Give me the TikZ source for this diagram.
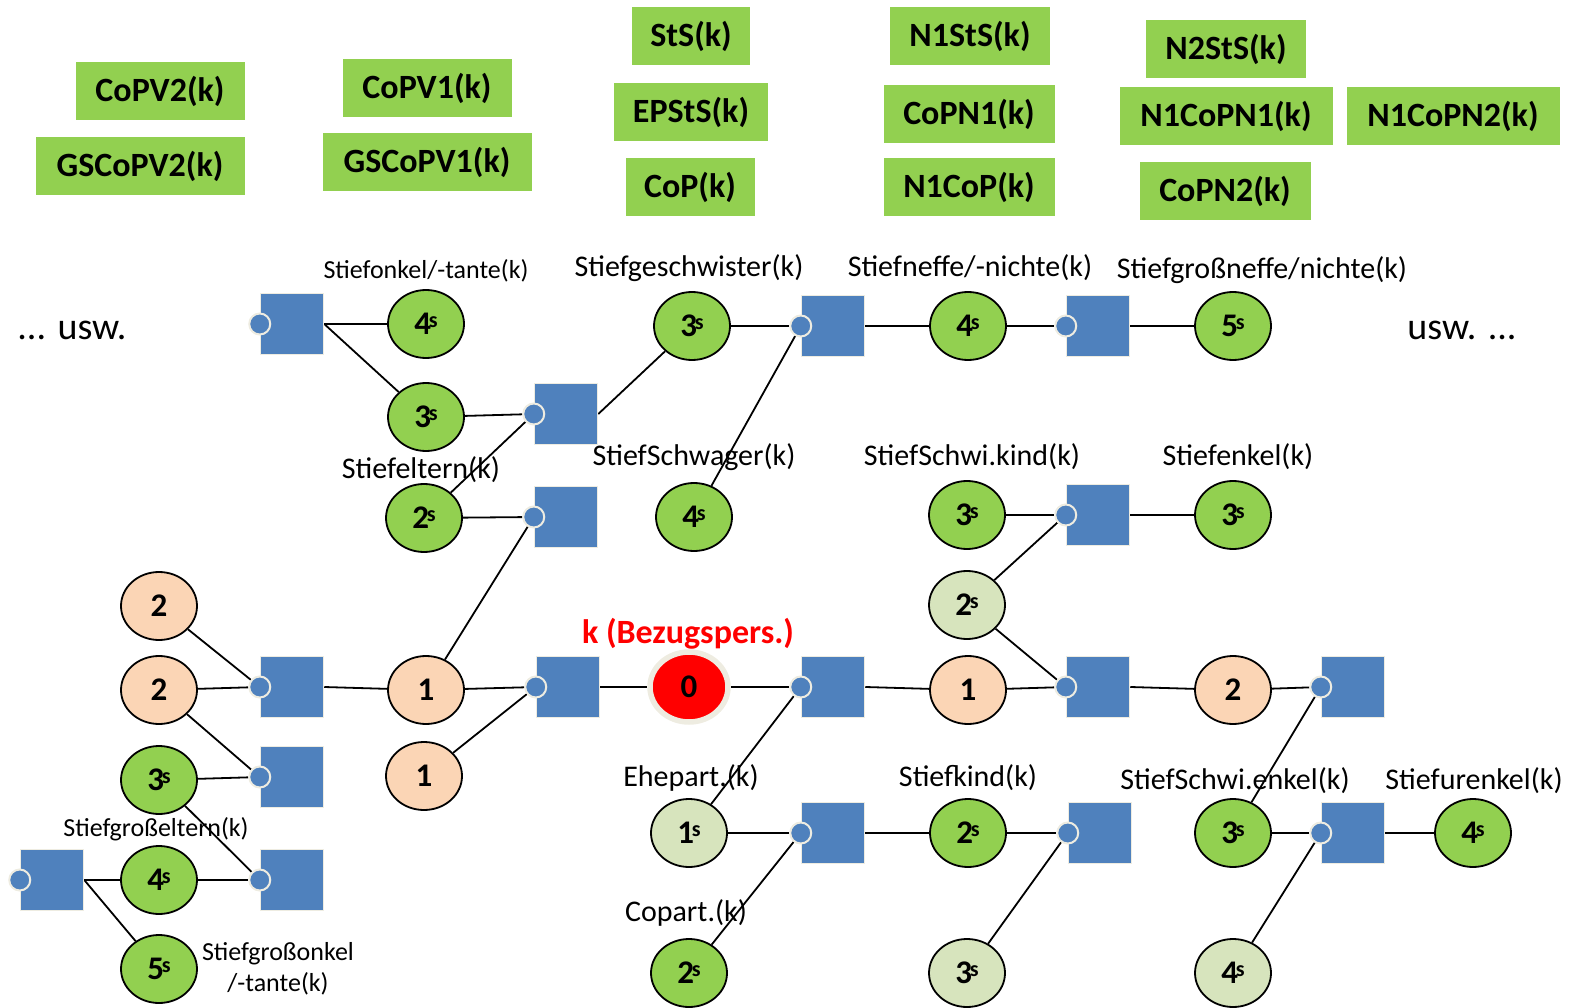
\documentclass[tikz,border=0pt]{standalone}
\usepackage{fontspec}
\setmainfont{Carlito}
\usetikzlibrary{shapes.geometric,backgrounds}

\definecolor{leaf}{HTML}{92D050}
\definecolor{paleleaf}{HTML}{D7E4BD}
\definecolor{peach}{HTML}{FBD5B5}
\definecolor{famblue}{HTML}{4F81BD}
\definecolor{cream}{HTML}{EEECE1}
\definecolor{egored}{HTML}{FF0000}

\newcommand\tagfont{\fontsize{34}{38}\selectfont\bfseries}
\newcommand\rolefont{\fontsize{30}{34}\selectfont}
\newcommand\smallrolefont{\fontsize{26}{31}\selectfont}
\newcommand\genfont{\fontsize{33}{35}\selectfont\bfseries}
\newcommand\gen[2]{#1\kern-2pt\raisebox{7pt}{\fontsize{22}{22}\selectfont #2}}

\tikzset{
  person/.style={ellipse, draw=black, line width=1.8pt, minimum width=76pt,
    minimum height=68pt, inner sep=0pt, font=\genfont},
  steprel/.style={person, fill=leaf},
  paleprel/.style={person, fill=paleleaf},
  bloodrel/.style={person, fill=peach},
  egonode/.style={person, fill=egored, draw=cream, line width=5.5pt,
    minimum width=78pt, minimum height=70pt},
  famsq/.style={rectangle, fill=famblue, draw=cream, line width=1.5pt,
    minimum width=63pt, minimum height=61pt, inner sep=0pt},
  port/.style={circle, fill=famblue, draw=cream, line width=2pt,
    minimum size=21pt, inner sep=0pt},
  role/.style={font=\rolefont, inner sep=0pt},
  smallrole/.style={font=\smallrolefont, inner sep=0pt, align=center},
  tagbox/.style={fill=leaf, minimum height=58pt, font=\tagfont, inner sep=0pt},
  link/.style={draw=black, line width=1.8pt}
}

\begin{document}
\begin{tikzpicture}[x=1pt,y=-1pt]
\useasboundingbox (0,0) rectangle (1569,1008);

% ---- abbreviation tags ----
\node[tagbox, minimum width=169pt] (t1)  at (160,91)  {CoPV2(k)};
\node[tagbox, minimum width=209pt] (t2)  at (140,166) {GSCoPV2(k)};
\node[tagbox, minimum width=169pt] (t3)  at (427,88)  {CoPV1(k)};
\node[tagbox, minimum width=209pt] (t4)  at (427,162) {GSCoPV1(k)};
\node[tagbox, minimum width=118pt] (t5)  at (691,36)  {StS(k)};
\node[tagbox, minimum width=154pt] (t6)  at (691,112) {EPStS(k)};
\node[tagbox, minimum width=129pt] (t7)  at (690,187) {CoP(k)};
\node[tagbox, minimum width=160pt] (t8)  at (970,36)  {N1StS(k)};
\node[tagbox, minimum width=171pt] (t9)  at (969,114) {CoPN1(k)};
\node[tagbox, minimum width=171pt] (t10) at (969,187) {N1CoP(k)};
\node[tagbox, minimum width=160pt] (t11) at (1226,49) {N2StS(k)};
\node[tagbox, minimum width=213pt] (t12) at (1226,116) {N1CoPN1(k)};
\node[tagbox, minimum width=213pt] (t13) at (1453,116) {N1CoPN2(k)};
\node[tagbox, minimum width=171pt] (t14) at (1225,191) {CoPN2(k)};

% ---- family squares with their connection ports ----
\foreach \n/\x/\y in {A/292/324, B/566/414, C/566/517, D/292/687, E/292/777,
    F/292/880, G/52/880, H/568/687, I/833/687, J/833/326, K/1098/326,
    L/1098/515, M/1098/687, N/1353/687, O/833/833, P/1100/833, Q/1353/833}{
  \node[famsq] (s\n) at (\x,\y) {};
  \node[port] (p\n) at (s\n.west) {};
}

% ---- persons ----
\node[steprel] (a4) at (426,324) {\gen{4}{s}};
\node[steprel] (a3) at (426,417) {\gen{3}{s}};
\node[steprel] (a2) at (424,518) {\gen{2}{s}};
\node[steprel] (g3) at (692,326) {\gen{3}{s}};
\node[steprel] (g4) at (694,517) {\gen{4}{s}};
\node[steprel] (n4) at (968,326) {\gen{4}{s}};
\node[steprel] (n5) at (1233,326) {\gen{5}{s}};
\node[steprel] (k3) at (967,515) {\gen{3}{s}};
\node[steprel] (e3) at (1233,515) {\gen{3}{s}};
\node[steprel] (l3) at (159,780) {\gen{3}{s}};
\node[steprel] (l4) at (159,880) {\gen{4}{s}};
\node[steprel] (l5) at (159,969) {\gen{5}{s}};
\node[steprel] (sk) at (968,833) {\gen{2}{s}};
\node[steprel] (cp) at (689,973) {\gen{2}{s}};
\node[steprel] (en3) at (1233,833) {\gen{3}{s}};
\node[steprel] (ur4) at (1473,833) {\gen{4}{s}};

\node[paleprel] (c2s) at (967,605) {\gen{2}{s}};
\node[paleprel] (ep) at (689,833) {\gen{1}{s}};
\node[paleprel] (sk3) at (967,973) {\gen{3}{s}};
\node[paleprel] (en4) at (1233,973) {\gen{4}{s}};

\node[bloodrel] (l2a) at (159,606) {2};
\node[bloodrel] (l2b) at (159,690) {2};
\node[bloodrel] (p1a) at (426,690) {1};
\node[bloodrel] (p1b) at (424,776) {1};
\node[bloodrel] (c1) at (968,690) {1};
\node[bloodrel] (c2) at (1233,690) {2};

\node[egonode] (ego) at (689,687) {0};

% ---- connectors ----
\begin{scope}[on background layer]
  \draw[link] (sA.east) -- (a4);
  \draw[link] (sA.east) -- (a3);
  \draw[link] (a3) -- (pB);
  \draw[link] (a2) -- (pB);
  \draw[link] (a2) -- (pC);
  \draw[link] (sB.east) -- (g3);
  \draw[link] (g3) -- (pJ);
  \draw[link] (g4) -- (pJ);
  \draw[link] (sJ.east) -- (n4);
  \draw[link] (n4) -- (pK);
  \draw[link] (sK.east) -- (n5);
  \draw[link] (l2a) -- (pD);
  \draw[link] (l2b) -- (pD);
  \draw[link] (l2b) -- (pE);
  \draw[link] (l3) -- (pE);
  \draw[link] (l3) -- (pF);
  \draw[link] (sG.east) -- (l4);
  \draw[link] (l4) -- (pF);
  \draw[link] (sG.east) -- (l5);
  \draw[link] (sD.east) -- (p1a);
  \draw[link] (p1a) -- (pC);
  \draw[link] (p1a) -- (pH);
  \draw[link] (p1b) -- (pH);
  \draw[link] (sH.east) -- (ego);
  \draw[link] (ego) -- (pI);
  \draw[link] (pI) -- (ep);
  \draw[link] (ep) -- (pO);
  \draw[link] (pO) -- (cp);
  \draw[link] (sO.east) -- (sk);
  \draw[link] (sk) -- (pP);
  \draw[link] (pP) -- (sk3);
  \draw[link] (sI.east) -- (c1);
  \draw[link] (c1) -- (pM);
  \draw[link] (c2s) -- (pL);
  \draw[link] (c2s) -- (pM);
  \draw[link] (k3) -- (pL);
  \draw[link] (sL.east) -- (e3);
  \draw[link] (sM.east) -- (c2);
  \draw[link] (c2) -- (pN);
  \draw[link] (pN) -- (en3);
  \draw[link] (en3) -- (pQ);
  \draw[link] (sQ.east) -- (ur4);
  \draw[link] (pQ) -- (en4);
\end{scope}

% ---- role labels ----
\node[smallrole] (r1) at (426,271) {Stiefonkel/-tante(k)};
\node[role] (r2) at (689,268) {Stiefgeschwister(k)};
\node[role] (r3) at (970,268) {Stiefneffe/-nichte(k)};
\node[role] (r4) at (1262,270) {Stiefgroßneffe/nichte(k)};
\node[role, font=\fontsize{38}{42}\selectfont] (r5) at (72,330) {... usw.};
\node[role, font=\fontsize{38}{42}\selectfont] (r6) at (1462,330) {usw. ...};
\node[role] (r7) at (421,470) {Stiefeltern(k)};
\node[role] (r8) at (694,457) {StiefSchwager(k)};
\node[role] (r9) at (972,457) {StiefSchwi.kind(k)};
\node[role] (r10) at (1238,457) {Stiefenkel(k)};
\node[role, text=egored, font=\fontsize{34}{38}\selectfont\bfseries] (r11) at (688,634) {k (Bezugspers.)};
\node[role] (r12) at (691,778) {Ehepart.(k)};
\node[role] (r13) at (968,778) {Stiefkind(k)};
\node[role] (r14) at (1235,781) {StiefSchwi.enkel(k)};
\node[role] (r15) at (1474,781) {Stiefurenkel(k)};
\node[role] (r16) at (686,913) {Copart.(k)};
\node[smallrole] (r17) at (156,829) {Stiefgroßeltern(k)};
\node[smallrole] (r18) at (278,969) {Stiefgroßonkel\\/-tante(k)};

\end{tikzpicture}
\end{document}
